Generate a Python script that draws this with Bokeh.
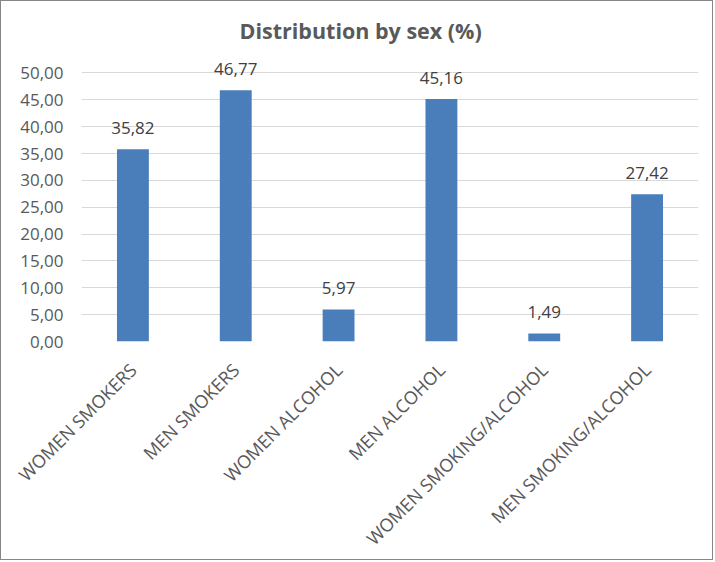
import math
from bokeh.plotting import figure
from bokeh.models import ColumnDataSource, LabelSet, FixedTicker, CustomJSTickFormatter, Range1d
from bokeh.core.properties import value
from bokeh.embed import file_html
from bokeh.resources import INLINE

categories = ["WOMEN SMOKERS", "MEN SMOKERS", "WOMEN ALCOHOL", "MEN ALCOHOL",
              "WOMEN SMOKING/ALCOHOL", "MEN SMOKING/ALCOHOL"]
values = [35.82, 46.77, 5.97, 45.16, 1.49, 27.42]
y_ticks = [0, 5, 10, 15, 20, 25, 30, 35, 40, 45, 50]
labels = [f"{v:.2f}".replace(".", ",") for v in values]

FONT = "Open Sans"
BAR = "#4a7ebb"

src = ColumnDataSource(dict(cat=categories, val=values, lab=labels))

p = figure(x_range=categories, y_range=Range1d(0, 54), width=713, height=560,
           output_backend="svg", toolbar_location=None,
           min_border_left=80, min_border_right=16, min_border_top=50, min_border_bottom=220)

p.vbar(x="cat", top="val", width=0.31, source=src, fill_color=BAR, line_color=None)

p.add_layout(LabelSet(x="cat", y="val", text="lab", source=src, text_align="center",
                      text_baseline="alphabetic", y_offset=15, text_font=value(FONT),
                      text_font_size=value("17px"), text_color="#404040"))

p.title.text = "Distribution by sex (%)"
p.title.align = "left"
p.title.offset = 158
p.title.standoff = 13
p.title.text_font = FONT
p.title.text_font_size = "21.5px"
p.title.text_font_style = "bold"
p.title.text_color = "#595959"

p.outline_line_color = None
p.xgrid.grid_line_color = None
p.ygrid.grid_line_color = "#d9d9d9"
p.ygrid.grid_line_width = 1

p.yaxis.ticker = FixedTicker(ticks=y_ticks)
p.yaxis.formatter = CustomJSTickFormatter(code="return tick.toFixed(2).replace('.', ',');")
p.yaxis.axis_line_color = None
p.yaxis.major_tick_line_color = None
p.yaxis.minor_tick_line_color = None
p.yaxis.major_tick_out = 0
p.yaxis.major_label_standoff = 18
p.yaxis.major_label_text_font = FONT
p.yaxis.major_label_text_font_size = "17px"
p.yaxis.major_label_text_color = "#595959"

p.xaxis.axis_line_color = None
p.xaxis.major_tick_line_color = None
p.xaxis.major_tick_out = 0
p.xaxis.major_label_orientation = math.pi / 4
p.xaxis.major_label_standoff = 25
p.xaxis.major_label_text_font = FONT
p.xaxis.major_label_text_font_size = "18px"
p.xaxis.major_label_text_color = "#595959"

p.styles = {"border": "1px solid #868686"}

open("out.html", "w").write(file_html(p, INLINE))
